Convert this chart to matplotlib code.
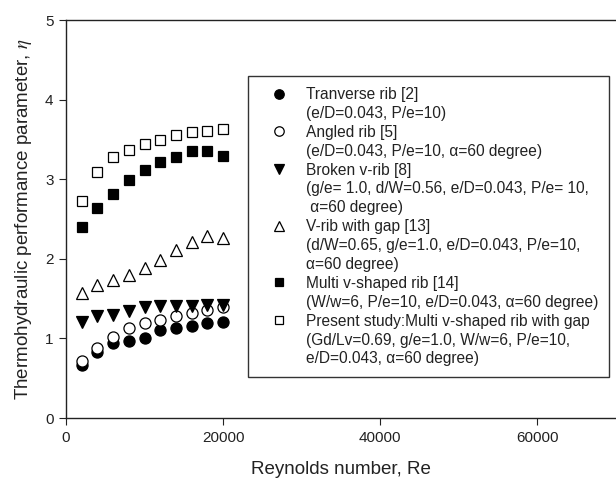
import matplotlib
matplotlib.use('Agg')
import matplotlib.pyplot as plt
from matplotlib.lines import Line2D

plt.rcParams['font.family'] = ['Liberation Sans', 'DejaVu Sans']
plt.rcParams['mathtext.fontset'] = 'stix'

# Reynolds numbers tested
re = [2000, 4000, 6000, 8000, 10000, 12000, 14000, 16000, 18000, 20000]

# thermohydraulic performance parameter for each rib geometry
eta_transverse = [0.67, 0.83, 0.94, 0.97, 1.00, 1.10, 1.13, 1.15, 1.19, 1.20]
eta_angled = [0.71, 0.88, 1.02, 1.13, 1.19, 1.23, 1.28, 1.32, 1.36, 1.39]
eta_broken_v = [1.21, 1.28, 1.29, 1.34, 1.39, 1.41, 1.41, 1.41, 1.42, 1.42]
eta_v_gap = [1.57, 1.67, 1.73, 1.80, 1.88, 1.98, 2.11, 2.21, 2.29, 2.26]
eta_multi_v = [2.40, 2.64, 2.81, 2.99, 3.12, 3.21, 3.28, 3.35, 3.35, 3.29]
eta_present = [2.72, 3.09, 3.28, 3.37, 3.44, 3.49, 3.55, 3.59, 3.60, 3.63]

# legend text, one list per series (first line gets the marker)
labels = [
    ['Tranverse rib [2]', '(e/D=0.043, P/e=10)'],
    ['Angled rib [5]', '(e/D=0.043, P/e=10, α=60 degree)'],
    ['Broken v-rib [8]', '(g/e= 1.0, d/W=0.56, e/D=0.043, P/e= 10,', ' α=60 degree)'],
    ['V-rib with gap [13]', '(d/W=0.65, g/e=1.0, e/D=0.043, P/e=10,', 'α=60 degree)'],
    ['Multi v-shaped rib [14]', '(W/w=6, P/e=10, e/D=0.043, α=60 degree)'],
    ['Present study:Multi v-shaped rib with gap', '(Gd/Lv=0.69, g/e=1.0, W/w=6, P/e=10,',
     'e/D=0.043, α=60 degree)'],
]

series = [
    (eta_transverse, 'o', 'black', 8),
    (eta_angled, 'o', 'white', 8),
    (eta_broken_v, 'v', 'black', 8),
    (eta_v_gap, '^', 'white', 8),
    (eta_multi_v, 's', 'black', 7),
    (eta_present, 's', 'white', 7),
]

fig = plt.figure(figsize=(6.16, 4.82), dpi=100)
ax = fig.add_axes([66 / 616, 64 / 482, 550 / 616, 398 / 482])

handles = []
leg_labels = []
for (vals, mk, fc, ms), lab in zip(series, labels):
    ax.plot(re, vals, linestyle='none', marker=mk, markersize=ms,
            markerfacecolor=fc, markeredgecolor='black', markeredgewidth=0.9)
    handles.append(Line2D([], [], linestyle='none', marker=mk, markersize=ms * 0.85,
                          markerfacecolor=fc, markeredgecolor='black', markeredgewidth=0.9))
    leg_labels.append(lab[0])
    for extra in lab[1:]:
        handles.append(Line2D([], [], linestyle='none'))
        leg_labels.append(extra)

ax.set_xlim(0, 70000)
ax.set_ylim(0, 5)
ax.set_xticks([0, 20000, 40000, 60000])
ax.set_yticks([0, 1, 2, 3, 4, 5])
ax.tick_params(direction='out', length=5, width=0.8, labelsize=11, pad=4, colors='#222222')
ax.spines['right'].set_visible(False)
for s in ['left', 'bottom', 'top']:
    ax.spines[s].set_linewidth(1.0)
    ax.spines[s].set_color('#222222')

ax.set_xlabel('Reynolds number, Re', fontsize=13.5, labelpad=12, color='#222222')
ax.set_ylabel(r'Thermohydraulic performance parameter, $\eta$', fontsize=13.5,
              labelpad=8, color='#222222')

leg = ax.legend(handles, leg_labels, loc='upper left', bbox_to_anchor=(0.331, 0.859),
                borderaxespad=0, fontsize=11.2, labelspacing=0.25, handlelength=2.6,
                handletextpad=0.4, borderpad=0.7, fancybox=False, framealpha=1,
                edgecolor='#333333')
leg.get_frame().set_linewidth(1.0)
for t in leg.get_texts():
    t.set_color('#222222')

plt.savefig('out.png', dpi=100)
